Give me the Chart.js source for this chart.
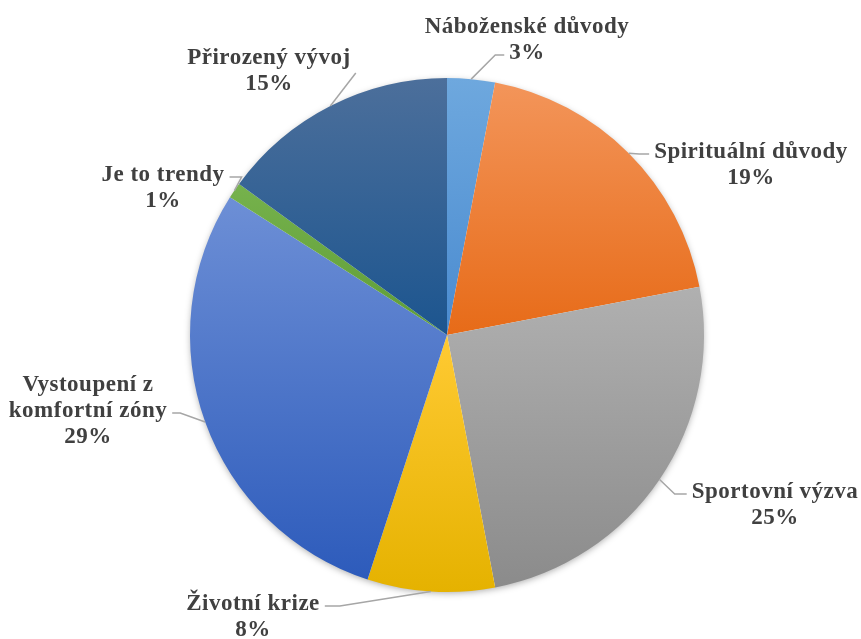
<!DOCTYPE html>
<html>
<head>
<meta charset="utf-8">
<title>Důvody</title>
<script src="https://cdn.jsdelivr.net/npm/chart.js@4.4.0/dist/chart.umd.min.js"></script>
<style>
    html, body { margin: 0; padding: 0; background: #fff; }
    #wrap { width: 861px; height: 639px; position: relative; }
</style>
</head>
<body>
<div id="wrap"><canvas id="pieChart"></canvas></div>
<script>
// ========================================
// Data
// ========================================

const categories = [
    'Náboženské důvody',
    'Spirituální důvody',
    'Sportovní výzva',
    'Životní krize',
    'Vystoupení z komfortní zóny',
    'Je to trendy',
    'Přirozený vývoj'
];
const percents = [3, 19, 25, 8, 29, 1, 15];

// gradient per slice, lighter at the top of the slice, darker at the bottom
const topColors    = ['#6ea8de', '#f3955a', '#b0b0b0', '#ffca33', '#6d8fd6', '#76b24c', '#4c6f9b'];
const bottomColors = ['#4a8bd0', '#e76b18', '#8b8b8b', '#e5b200', '#2d5bbb', '#5e9c38', '#1c558f'];

// label block offsets from the pie centre, which line the leader attaches to, and elbow length
const labelLayout = [
    { dx: 80,   dy: -308, side: 'left',  line: 1,   elbow: 9,  wrap: 400 },
    { dx: 304,  dy: -183, side: 'left',  line: 0,   elbow: 10, wrap: 400 },
    { dx: 328,  dy: 157,  side: 'left',  line: 0,   elbow: 12, wrap: 400 },
    { dx: -194, dy: 269,  side: 'right', line: 0,   elbow: 15, wrap: 400 },
    { dx: -359, dy: 50,   side: 'right', line: 1,   elbow: 8,  wrap: 175 },
    { dx: -284, dy: -160, side: 'right', line: 0,   elbow: 12, wrap: 400 },
    { dx: -178, dy: -277, side: 'right', line: 0.5, elbow: 0,  wrap: 400 }
];

const PIE_RADIUS = 257;
const LABEL_FONT = 'bold 23px "Liberation Serif", "Times New Roman", serif';
const LINE_HEIGHT = 26;

// ========================================
// Helpers
// ========================================

function sliceGradient(c) {
    const chart = c.chart;
    const area = chart.chartArea;
    if (!area) return topColors[c.dataIndex];
    const i = c.dataIndex;
    const total = percents.reduce((a, b) => a + b, 0);
    const before = percents.slice(0, i).reduce((a, b) => a + b, 0);
    const start = -Math.PI / 2 + 2 * Math.PI * before / total;
    const end = start + 2 * Math.PI * percents[i] / total;
    const cy = (area.top + area.bottom) / 2;
    const r = PIE_RADIUS;

    const ys = [cy, cy + r * Math.sin(start), cy + r * Math.sin(end)];
    [-Math.PI / 2, Math.PI / 2, 3 * Math.PI / 2].forEach(a => {
        if (a > start && a < end) ys.push(cy + r * Math.sin(a));
    });
    const minY = Math.min(...ys);
    const maxY = Math.max(...ys);
    const g = chart.ctx.createLinearGradient(0, minY, 0, maxY);
    g.addColorStop(0, topColors[i]);
    g.addColorStop(1, bottomColors[i]);
    return g;
}

function wrapWords(ctx, text, maxWidth) {
    const words = text.split(' ');
    const lines = [];
    let cur = '';
    words.forEach(w => {
        const test = cur ? cur + ' ' + w : w;
        if (cur && ctx.measureText(test).width > maxWidth) {
            lines.push(cur);
            cur = w;
        } else {
            cur = test;
        }
    });
    if (cur) lines.push(cur);
    return lines;
}

// soft shadow under the whole disc, drawn before the slices
const pieShadow = {
    id: 'pieShadow',
    beforeDatasetsDraw(chart) {
        const arc = chart.getDatasetMeta(0).data[0];
        if (!arc) return;
        const ctx = chart.ctx;
        ctx.save();
        ctx.shadowColor = 'rgba(0, 0, 0, 0.35)';
        ctx.shadowBlur = 7;
        ctx.shadowOffsetY = 2;
        ctx.beginPath();
        ctx.arc(arc.x, arc.y, arc.outerRadius - 1, 0, Math.PI * 2);
        ctx.fillStyle = '#ffffff';
        ctx.fill();
        ctx.restore();
    }
};

// category + percent labels with leader lines
const outsideLabels = {
    id: 'outsideLabels',
    afterDatasetsDraw(chart) {
        const ctx = chart.ctx;
        const meta = chart.getDatasetMeta(0);
        ctx.save();
        ctx.font = LABEL_FONT;
        if ('letterSpacing' in ctx) ctx.letterSpacing = '0.5px';
        ctx.textAlign = 'center';
        ctx.textBaseline = 'middle';

        meta.data.forEach((arc, i) => {
            const lay = labelLayout[i];
            const lx = arc.x + lay.dx;
            const ly = arc.y + lay.dy;
            const lines = wrapWords(ctx, categories[i], lay.wrap);
            lines.push(Math.round(percents[i]) + '%');

            // leader line: slice edge -> elbow -> label
            const mid = (arc.startAngle + arc.endAngle) / 2;
            const ex = arc.x + arc.outerRadius * Math.cos(mid);
            const ey = arc.y + arc.outerRadius * Math.sin(mid);
            const refLine = lines[Math.floor(lay.line)];
            const w = ctx.measureText(refLine).width;
            const gap = 5;
            const ax = lay.side === 'left' ? lx - w / 2 - gap : lx + w / 2 + gap;
            const ay = ly + lay.line * LINE_HEIGHT + 2;
            const bx = lay.side === 'left' ? ax - lay.elbow : ax + lay.elbow;

            ctx.beginPath();
            ctx.moveTo(ex, ey);
            ctx.lineTo(bx, ay);
            ctx.lineTo(ax, ay);
            ctx.strokeStyle = '#a6a6a6';
            ctx.lineWidth = 1.5;
            ctx.stroke();

            ctx.fillStyle = '#404040';
            lines.forEach((t, k) => {
                ctx.fillText(t, lx, ly + k * LINE_HEIGHT);
            });
        });
        ctx.restore();
    }
};

// ========================================
// Pie Chart
// ========================================

new Chart(document.getElementById('pieChart'), {
    type: 'pie',
    data: {
        labels: categories,
        datasets: [{
            data: percents,
            backgroundColor: sliceGradient,
            borderWidth: 0,
            hoverOffset: 0,
            radius: PIE_RADIUS
        }]
    },
    options: {
        responsive: true,
        maintainAspectRatio: false,
        animation: false,
        layout: {
            padding: { left: 33, right: 0, top: 78, bottom: 47 }
        },
        plugins: {
            legend: { display: false },
            tooltip: { enabled: false }
        }
    },
    plugins: [pieShadow, outsideLabels]
});
</script>
</body>
</html>
